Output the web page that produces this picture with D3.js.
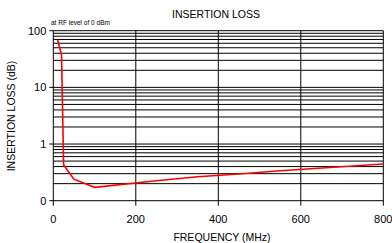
<!DOCTYPE html>
<html>
<head>
<meta charset="utf-8">
<script src="https://cdn.jsdelivr.net/npm/d3@7"></script>
<style>
  body { margin: 0; background: #fff; }
  svg { display: block; font-family: "Liberation Sans", Arial, sans-serif; }
</style>
</head>
<body>
<div id="chart"></div>
<script>
"use strict";

/* Data */
const FREQ = [10, 20, 25, 30, 50, 100, 250, 350, 450, 550, 800];
const LOSS = [70, 37, 0.43, 0.38, 0.24, 0.172, 0.225, 0.265, 0.296, 0.338, 0.444];

const X_TICKS = [0, 200, 400, 600, 800];
const Y_TICKS = [0.1, 1, 10, 100];
const Y_TICK_LABELS = ["0", "1", "10", "100"];

const width = 392, height = 243;

const svg = d3.select("#chart")
  .append("svg")
  .attr("width", width)
  .attr("height", height);

const x = d3.scaleLinear()
  .domain([0, 800])
  .range([53.3, 383.3]);

const y = d3.scaleLog()
  .domain([0.1, 100])
  .range([200.7, 30.7]);

// minor grid lines 1..9 in each decade (log paper)
const gridVals = [];
for (let dec of [0.1, 1, 10]) {
  for (let m = 1; m <= 9; m++) gridVals.push(+(dec * m).toPrecision(3));
}
gridVals.push(100);

const grid = svg.append("g");

grid.selectAll(".hgrid")
  .data(gridVals)
  .enter()
  .append("line")
  .attr("class", "hgrid")
  .attr("x1", x(0))
  .attr("x2", x(800))
  .attr("y1", d => y(d))
  .attr("y2", d => y(d))
  .attr("stroke", "#000")
  .attr("stroke-width", 1);

// vertical grid lines, running a little past the axis as ticks
grid.selectAll(".vgrid")
  .data(X_TICKS.slice(1))
  .enter()
  .append("line")
  .attr("class", "vgrid")
  .attr("x1", d => x(d))
  .attr("x2", d => x(d))
  .attr("y1", y(100))
  .attr("y2", y(0.1) + 5)
  .attr("stroke", "#000")
  .attr("stroke-width", 1);

// y axis line and ticks
svg.append("line")
  .attr("x1", x(0)).attr("x2", x(0))
  .attr("y1", y(100)).attr("y2", y(0.1) + 5)
  .attr("stroke", "#000");

svg.selectAll(".ytick")
  .data(Y_TICKS)
  .enter()
  .append("line")
  .attr("x1", x(0) - 4)
  .attr("x2", x(0))
  .attr("y1", d => y(d))
  .attr("y2", d => y(d))
  .attr("stroke", "#000");

svg.selectAll(".ylabel")
  .data(Y_TICKS)
  .enter()
  .append("text")
  .attr("x", x(0) - 7)
  .attr("y", d => y(d))
  .attr("dy", "0.35em")
  .attr("text-anchor", "end")
  .attr("font-size", 11)
  .text((d, i) => Y_TICK_LABELS[i]);

svg.selectAll(".xlabel")
  .data(X_TICKS)
  .enter()
  .append("text")
  .attr("x", d => x(d))
  .attr("y", 223)
  .attr("text-anchor", "middle")
  .attr("font-size", 11)
  .text(d => d);

// the curve
const line = d3.line()
  .x((d, i) => x(FREQ[i]))
  .y(d => y(d));

svg.append("path")
  .datum(LOSS)
  .attr("d", line)
  .attr("fill", "none")
  .attr("stroke", "#ff0000")
  .attr("stroke-width", 1.6);

// titles
svg.append("text")
  .attr("x", 216)
  .attr("y", 18)
  .attr("text-anchor", "middle")
  .attr("font-size", 10.5)
  .text("INSERTION LOSS");

svg.append("text")
  .attr("x", 51)
  .attr("y", 25)
  .attr("font-size", 6.5)
  .text("at RF level of 0 dBm");

svg.append("text")
  .attr("x", 222)
  .attr("y", 240.5)
  .attr("text-anchor", "middle")
  .attr("font-size", 10.5)
  .text("FREQUENCY (MHz)");

svg.append("text")
  .attr("transform", "translate(15,116) rotate(-90)")
  .attr("text-anchor", "middle")
  .attr("font-size", 10.5)
  .text("INSERTION LOSS (dB)");

// clipped note at the very bottom edge, as in the reference
svg.append("text")
  .attr("x", 50)
  .attr("y", 247.5)
  .attr("font-size", 8)
  .text("M");
</script>
</body>
</html>
